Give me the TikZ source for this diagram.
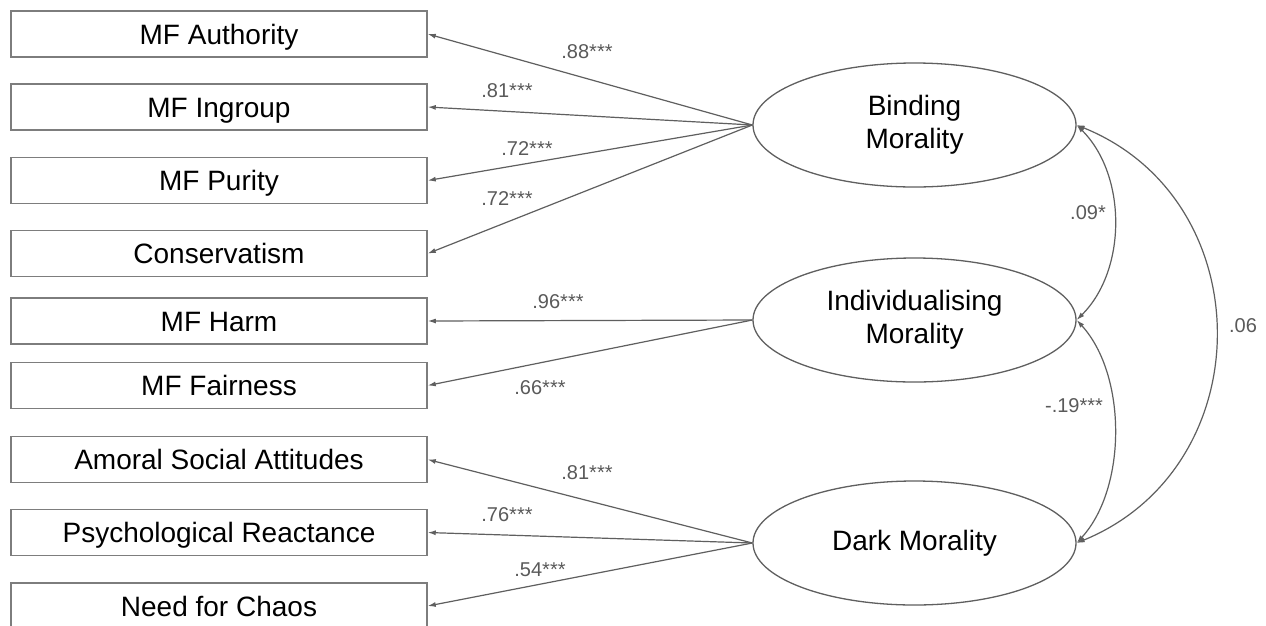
\documentclass[tikz,border=0pt]{standalone}
\usepackage{fontspec}
\setmainfont{Liberation Sans}
\usetikzlibrary{shapes.geometric,arrows.meta}
\definecolor{linegray}{RGB}{95,95,95}
\definecolor{boxgray}{RGB}{125,125,125}
\definecolor{labgray}{RGB}{90,90,90}
\begin{document}
\begin{tikzpicture}[x=1pt,y=-1pt,
  obs/.style={draw=boxgray, line width=1.5pt, minimum width=416pt, minimum height=46pt,
    inner sep=0pt, text height=20pt, text depth=0pt, font=\fontsize{28}{32}\selectfont, text=black},
  lat/.style={ellipse, draw=linegray, line width=1.3pt, minimum width=323pt, minimum height=124pt,
    inner sep=0pt, align=center, font=\fontsize{28}{33}\selectfont, text=black},
  arr/.style={draw=linegray, line width=1.2pt, -{Latex[length=8pt,width=5pt]}},
  cov/.style={draw=linegray, line width=1.2pt, {Latex[length=8pt,width=5pt]}-{Latex[length=8pt,width=5pt]}},
  lab/.style={text=labgray, font=\fontsize{20}{24}\selectfont, inner sep=0pt}]
\path[use as bounding box, fill=white] (0,0) rectangle (1266,625);
\clip (0,0) rectangle (1266,625);

% observed variables
\node[obs] (auth) at (219,34) {MF Authority};
\node[obs] (ingr) at (219,107) {MF Ingroup};
\node[obs] (puri) at (219,180.5) {MF Purity};
\node[obs] (cons) at (219,253.5) {Conservatism};
\node[obs] (harm) at (219,321) {MF Harm};
\node[obs] (fair) at (219,385.5) {MF Fairness};
\node[obs] (amor) at (219,459.5) {Amoral Social Attitudes};
\node[obs] (reac) at (219,532.5) {Psychological Reactance};
\node[obs] (chao) at (219,606) {Need for Chaos};

% latent variables
\node[lat] (bind) at (914.5,125) {Binding\\Morality};
\node[lat] (indi) at (914.5,320) {Individualising\\Morality};
\node[lat] (dark) at (914.5,543) {Dark Morality};

% loadings
\draw[arr] (bind.west) -- (auth.east);
\draw[arr] (bind.west) -- (ingr.east);
\draw[arr] (bind.west) -- (puri.east);
\draw[arr] (bind.west) -- (cons.east);
\draw[arr] (indi.west) -- (harm.east);
\draw[arr] (indi.west) -- (fair.east);
\draw[arr] (dark.west) -- (amor.east);
\draw[arr] (dark.west) -- (reac.east);
\draw[arr] (dark.west) -- (chao.east);

\node[lab] (l1) at (587,52) {.88***};
\node[lab] (l2) at (507,91) {.81***};
\node[lab] (l3) at (527,149) {.72***};
\node[lab] (l4) at (507,199) {.72***};
\node[lab] (l5) at (558,302) {.96***};
\node[lab] (l6) at (540,388) {.66***};
\node[lab] (l7) at (587,473) {.81***};
\node[lab] (l8) at (507,515) {.76***};
\node[lab] (l9) at (540,570) {.54***};

% covariances
\draw[cov] (bind.east) .. controls (1127,175) and (1127,270) .. (indi.east);
\draw[cov] (indi.east) .. controls (1127,375) and (1127,488) .. (dark.east);
\draw[cov] (bind.east) .. controls (1262,200) and (1262,467) .. (dark.east);

\node[lab] (c1) at (1088,213) {.09*};
\node[lab] (c2) at (1074,406) {-.19***};
\node[lab] (c3) at (1243,326) {.06};
\end{tikzpicture}
\end{document}
